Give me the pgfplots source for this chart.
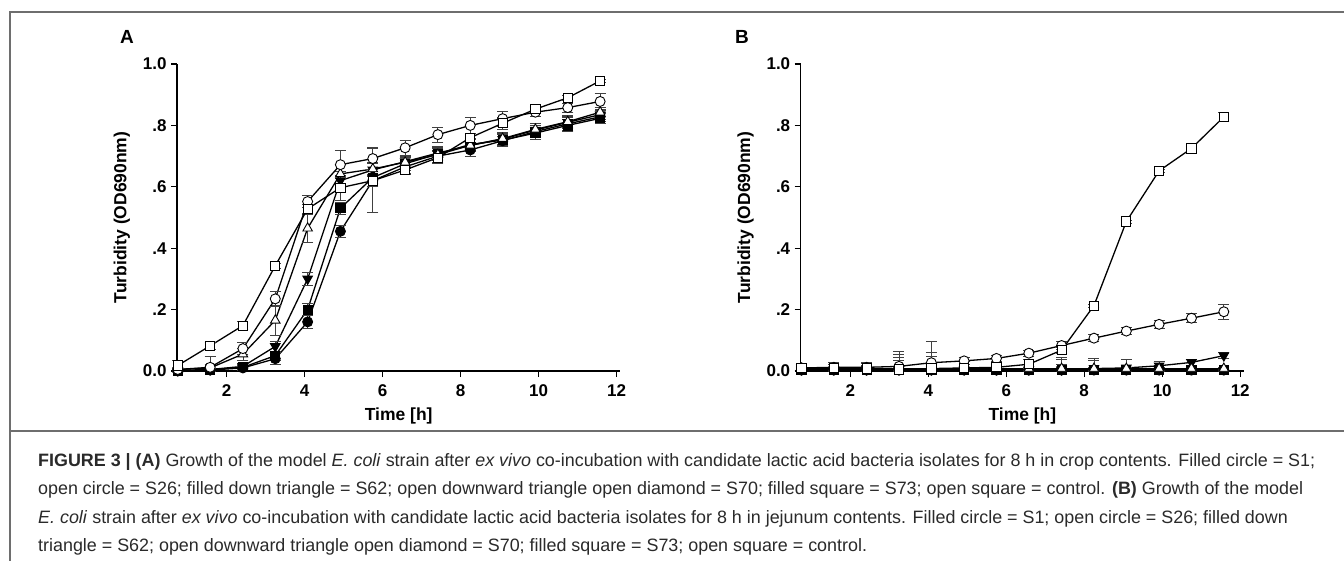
\documentclass[border=0pt]{standalone}
\usepackage{pgfplots}
\pgfplotsset{compat=1.18}
\usepackage{fontspec}
\setmainfont{Liberation Sans}
\definecolor{framegray}{HTML}{6E6E6E}
\definecolor{captxt}{HTML}{2A2A2A}

\pgfplotsset{
  panel/.style={
    scale only axis, width=443.4bp, height=307bp,
    xmin=0.73, xmax=12.1, ymin=0, ymax=1.0,
    axis lines=left, axis line style={-, line width=1.3bp},
    tick align=outside, major tick length=6bp,
    every tick/.style={line width=1.3bp, black},
    xtick={2,4,6,8,10,12}, xticklabels={2,4,6,8,10,12},
    ytick={0,0.2,0.4,0.6,0.8,1.0}, yticklabels={0.0,.2,.4,.6,.8,1.0},
    tick label style={font=\fontsize{17bp}{19bp}\selectfont\bfseries},
    xticklabel style={yshift=-4bp},
    yticklabel style={xshift=-1bp},
    label style={font=\fontsize{17.5bp}{19bp}\selectfont\bfseries},
    xlabel={Time [h]}, ylabel={Turbidity (OD690nm)},
    xlabel style={yshift=-4bp},
    ylabel style={yshift=6bp},
    clip=false,
    every axis plot/.append style={line width=1.3bp, black, mark size=5bp,
      error bars/y dir=both, error bars/y explicit,
      error bars/error bar style={line width=0.8bp, black!75},
      error bars/error mark options={rotate=90, mark size=5.5bp, line width=0.8bp, black!75}},
  },
  fc/.style={mark=*, mark options={fill=black, draw=black, line width=0.9bp}},
  oc/.style={mark=*, mark options={fill=white, draw=black, line width=0.9bp}},
  fdt/.style={mark=triangle*, mark size=5.5bp, mark options={rotate=180, fill=black, draw=black, line width=0.9bp}},
  ot/.style={mark=triangle*, mark size=5.5bp, mark options={fill=white, draw=black, line width=0.9bp}},
  fs/.style={mark=square*, mark size=4.6bp, mark options={fill=black, draw=black, line width=0.9bp}},
  os/.style={mark=square*, mark size=4.6bp, mark options={fill=white, draw=black, line width=0.9bp}},
}

\begin{document}
\begin{tikzpicture}
\useasboundingbox (0bp,0bp) rectangle (1344bp,-561bp);
\fill[white] (0bp,0bp) rectangle (1344bp,-561bp);
\draw[framegray, line width=1.6bp] (10bp,-561bp) -- (10bp,-12bp) -- (1344bp,-12bp);
\draw[framegray, line width=1.2bp] (10bp,-431bp) -- (1344bp,-431bp);

\node[font=\fontsize{19bp}{21bp}\selectfont\bfseries] at (127bp,-37bp) {A};
\node[font=\fontsize{19bp}{21bp}\selectfont\bfseries] at (742bp,-37bp) {B};

% ---------- Panel A ----------
\begin{axis}[panel, at={(177bp,-371bp)}, anchor=south west]
% S1 filled circle
\addplot[fc] coordinates {
(0.75,0.000)+-(0,0.000) (1.58,0.003)+=(0,0.004)-=(0,0.003) (2.42,0.010)+-(0,0.008) (3.25,0.040)+-(0,0.020)
(4.08,0.160)+-(0,0.020) (4.92,0.455)+-(0,0.020) (5.75,0.620)+-(0,0.020) (6.58,0.665)+-(0,0.020)
(7.42,0.700)+-(0,0.020) (8.25,0.720)+-(0,0.020) (9.08,0.750)+-(0,0.020) (9.92,0.780)+-(0,0.020)
(10.75,0.805)+-(0,0.020) (11.58,0.828)+-(0,0.015)};
% S73 filled square
\addplot[fs] coordinates {
(0.75,0.000)+-(0,0.000) (1.58,0.004)+-(0,0.004) (2.42,0.012)+-(0,0.008) (3.25,0.050)+-(0,0.015)
(4.08,0.200)+-(0,0.020) (4.92,0.530)+-(0,0.020) (5.75,0.630)+-(0,0.020) (6.58,0.675)+-(0,0.020)
(7.42,0.707)+-(0,0.020) (8.25,0.738)+-(0,0.020) (9.08,0.752)+-(0,0.020) (9.92,0.775)+-(0,0.020)
(10.75,0.800)+-(0,0.020) (11.58,0.823)+-(0,0.015)};
% S62 filled down triangle
\addplot[fdt] coordinates {
(0.75,0.002)+-(0,0.002) (1.58,0.005)+-(0,0.005) (2.42,0.015)+-(0,0.010) (3.25,0.080)+-(0,0.015)
(4.08,0.300)+-(0,0.020) (4.92,0.620)+-(0,0.030) (5.75,0.655)+-(0,0.020) (6.58,0.682)+-(0,0.020)
(7.42,0.710)+-(0,0.020) (8.25,0.735)+-(0,0.020) (9.08,0.755)+-(0,0.020) (9.92,0.785)+-(0,0.020)
(10.75,0.810)+-(0,0.020) (11.58,0.835)+-(0,0.015)};
% S70 open triangle
\addplot[ot] coordinates {
(0.75,0.005)+-(0,0.005) (1.58,0.010)+-(0,0.010) (2.42,0.055)+-(0,0.020) (3.25,0.165)+-(0,0.050)
(4.08,0.465)+-(0,0.045) (4.92,0.642)+-(0,0.030) (5.75,0.658)+-(0,0.020) (6.58,0.680)+-(0,0.020)
(7.42,0.705)+-(0,0.020) (8.25,0.735)+-(0,0.020) (9.08,0.757)+-(0,0.020) (9.92,0.787)+-(0,0.020)
(10.75,0.812)+-(0,0.020) (11.58,0.843)+-(0,0.015)};
% S26 open circle
\addplot[oc] coordinates {
(0.75,0.005)+-(0,0.005) (1.58,0.012)+=(0,0.035)-=(0,0.012) (2.42,0.073)+-(0,0.020) (3.25,0.235)+-(0,0.025)
(4.08,0.552)+-(0,0.020) (4.92,0.672)+-(0,0.045) (5.75,0.692)+-(0,0.035) (6.58,0.727)+-(0,0.025)
(7.42,0.770)+-(0,0.025) (8.25,0.800)+-(0,0.025) (9.08,0.822)+-(0,0.025) (9.92,0.843)+-(0,0.015)
(10.75,0.858)+-(0,0.015) (11.58,0.878)+-(0,0.025)};
% control open square
\addplot[os] coordinates {
(0.75,0.018)+-(0,0.015) (1.58,0.082)+-(0,0.010) (2.42,0.148)+-(0,0.012) (3.25,0.343)+-(0,0.008)
(4.08,0.528)+-(0,0.015) (4.92,0.597)+-(0,0.040) (5.75,0.620)+-(0,0.105) (6.58,0.655)+-(0,0.015)
(7.42,0.695)+-(0,0.020) (8.25,0.760)+-(0,0.015) (9.08,0.807)+-(0,0.020) (9.92,0.853)+-(0,0.010)
(10.75,0.890)+-(0,0.008) (11.58,0.945)+-(0,0.006)};
\end{axis}

% ---------- Panel B ----------
\begin{axis}[panel, at={(800.7bp,-371bp)}, anchor=south west]
% S1 filled circle
\addplot[fc] coordinates {
(0.75,0.003)+-(0,0.003) (1.58,0.003)+-(0,0.003) (2.42,0.003)+=(0,0.010)-=(0,0.003) (3.25,0.003)+=(0,0.010)-=(0,0.003)
(4.08,0.003)+=(0,0.010)-=(0,0.003) (4.92,0.003)+-(0,0.003) (5.75,0.003)+-(0,0.003) (6.58,0.003)+-(0,0.003)
(7.42,0.003)+=(0,0.020)-=(0,0.003) (8.25,0.003)+=(0,0.010)-=(0,0.003) (9.08,0.003)+=(0,0.010)-=(0,0.003) (9.92,0.003)+=(0,0.010)-=(0,0.003)
(10.75,0.003)+-(0,0.003) (11.58,0.003)+-(0,0.003)};
% S73 filled square
\addplot[fs] coordinates {
(0.75,0.003)+-(0,0.003) (1.58,0.003)+-(0,0.003) (2.42,0.003)+=(0,0.015)-=(0,0.003) (3.25,0.003)+=(0,0.040)-=(0,0.003)
(4.08,0.003)+=(0,0.045)-=(0,0.003) (4.92,0.003)+-(0,0.003) (5.75,0.003)+-(0,0.003) (6.58,0.003)+-(0,0.003)
(7.42,0.003)+=(0,0.035)-=(0,0.003) (8.25,0.003)+=(0,0.030)-=(0,0.003) (9.08,0.003)+=(0,0.010)-=(0,0.003) (9.92,0.003)+=(0,0.010)-=(0,0.003)
(10.75,0.003)+-(0,0.003) (11.58,0.003)+-(0,0.003)};
% S62 filled down triangle
\addplot[fdt] coordinates {
(0.75,0.005)+-(0,0.005) (1.58,0.005)+-(0,0.005) (2.42,0.005)+=(0,0.020)-=(0,0.005) (3.25,0.005)+=(0,0.050)-=(0,0.005)
(4.08,0.005)+=(0,0.055)-=(0,0.005) (4.92,0.005)+-(0,0.005) (5.75,0.005)+-(0,0.005) (6.58,0.005)+-(0,0.005)
(7.42,0.005)+=(0,0.040)-=(0,0.005) (8.25,0.008)+=(0,0.032)-=(0,0.008) (9.08,0.010)+=(0,0.028)-=(0,0.010) (9.92,0.017)+-(0,0.015)
(10.75,0.028)+-(0,0.010) (11.58,0.050)+-(0,0.010)};
% S70 open triangle
\addplot[ot] coordinates {
(0.75,0.008)+-(0,0.005) (1.58,0.008)+-(0,0.005) (2.42,0.008)+-(0,0.005) (3.25,0.008)+-(0,0.005)
(4.08,0.008)+-(0,0.005) (4.92,0.008)+-(0,0.005) (5.75,0.008)+-(0,0.005) (6.58,0.008)+-(0,0.005)
(7.42,0.008)+-(0,0.005) (8.25,0.008)+-(0,0.005) (9.08,0.008)+-(0,0.005) (9.92,0.008)+-(0,0.005)
(10.75,0.008)+-(0,0.005) (11.58,0.008)+-(0,0.005)};
% S26 open circle
\addplot[oc] coordinates {
(0.75,0.010)+-(0,0.010) (1.58,0.012)+=(0,0.015)-=(0,0.012) (2.42,0.012)+=(0,0.015)-=(0,0.012) (3.25,0.015)+=(0,0.020)-=(0,0.015)
(4.08,0.027)+=(0,0.068)-=(0,0.027) (4.92,0.033)+-(0,0.010) (5.75,0.041)+-(0,0.010) (6.58,0.058)+-(0,0.010)
(7.42,0.083)+-(0,0.012) (8.25,0.107)+-(0,0.012) (9.08,0.130)+-(0,0.012) (9.92,0.152)+-(0,0.012)
(10.75,0.172)+-(0,0.015) (11.58,0.193)+-(0,0.025)};
% control open square
\addplot[os] coordinates {
(0.75,0.010)+-(0,0.010) (1.58,0.010)+-(0,0.010) (2.42,0.008)+-(0,0.008) (3.25,0.005)+=(0,0.060)-=(0,0.005)
(4.08,0.008)+=(0,0.020)-=(0,0.008) (4.92,0.010)+=(0,0.020)-=(0,0.010) (5.75,0.012)+-(0,0.010) (6.58,0.022)+-(0,0.015)
(7.42,0.068)+-(0,0.010) (8.25,0.213)+-(0,0.005) (9.08,0.487)+-(0,0.005) (9.92,0.652)+-(0,0.005)
(10.75,0.725)+-(0,0.008) (11.58,0.828)+-(0,0.015)};
\end{axis}

% ---------- Caption ----------
\begin{scope}[every node/.style={anchor=base west, inner sep=0pt, text=captxt,
   font=\fontsize{17.9bp}{20bp}\selectfont}]
\node at (38bp,-466bp) {\textbf{FIGURE 3 | (A)} Growth of the model \textit{E. coli} strain after \textit{ex vivo} co-incubation with candidate lactic acid bacteria isolates for 8 h in crop contents. Filled circle = S1;};
\node at (38bp,-494.5bp) {open circle = S26; filled down triangle = S62; open downward triangle open diamond = S70; filled square = S73; open square = control. \textbf{(B)} Growth of the model};
\node at (38bp,-523bp) {\textit{E. coli} strain after \textit{ex vivo} co-incubation with candidate lactic acid bacteria isolates for 8 h in jejunum contents. Filled circle = S1; open circle = S26; filled down};
\node at (38bp,-551.5bp) {triangle = S62; open downward triangle open diamond = S70; filled square = S73; open square = control.};
\end{scope}
\end{tikzpicture}
\end{document}
